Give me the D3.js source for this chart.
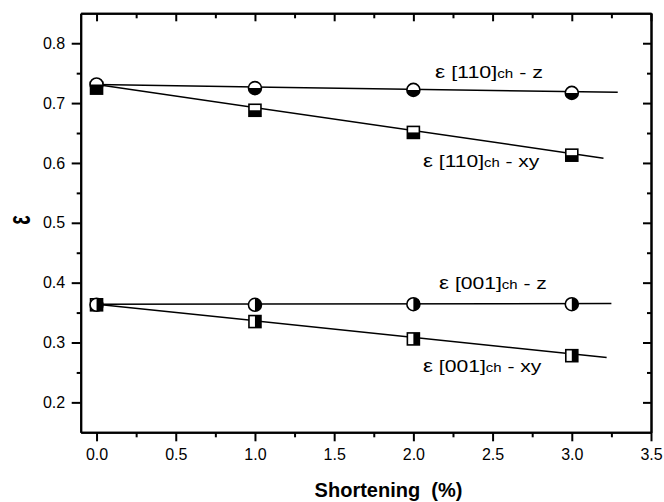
<!DOCTYPE html>
<html>
<head>
<meta charset="utf-8">
<script src="https://cdn.jsdelivr.net/npm/d3@7"></script>
<style>
  body { margin: 0; background: #fff; }
  text { font-family: "Liberation Sans", Arial, sans-serif; fill: #000; }
</style>
</head>
<body>
<div class="canvas"></div>
<script>
/////////////////////////////////////////////////
// Data
/////////////////////////////////////////////////

const shortening = [0, 1, 2, 3];
const eps110z = [0.731, 0.725, 0.722, 0.717];
const eps110xy = [0.725, 0.688, 0.651, 0.613];
const eps001z = [0.363, 0.363, 0.364, 0.364];
const eps001xy = [0.363, 0.335, 0.306, 0.278];

// linear fits, [start, end] as [x, y]
const fit110z = [[0, 0.731], [3.29, 0.718]];
const fit110xy = [[0, 0.731], [3.2, 0.608]];
const fit001z = [[0, 0.364], [3.25, 0.365]];
const fit001xy = [[0, 0.364], [3.22, 0.275]];

// label pieces: "ε [dir]ch - comp"
const labelDirs = ["110", "110", "001", "001"];
const labelComps = ["z", "xy", "z", "xy"];

const xTicks = [0, 0.5, 1, 1.5, 2, 2.5, 3, 3.5];
const xMinor = [0.25, 0.75, 1.25, 1.75, 2.25, 2.75, 3.25];
const yTicks = [0.2, 0.3, 0.4, 0.5, 0.6, 0.7, 0.8];
const yMinor = [0.25, 0.35, 0.45, 0.55, 0.65, 0.75];

/////////////////////////////////////////////////
// Setup
/////////////////////////////////////////////////

const width = 664;
const height = 502;
const margin = { top: 13.3, right: 13, bottom: 69.7, left: 80.7 };
const graphWidth = width - margin.left - margin.right;
const graphHeight = height - margin.top - margin.bottom;

const x = d3.scaleLinear().domain([-0.1, 3.5]).range([0, graphWidth]);
const y = d3.scaleLinear().domain([0.15, 0.85]).range([graphHeight, 0]);

const svg = d3
  .select(".canvas")
  .append("svg")
  .attr("width", width)
  .attr("height", height);

const graph = svg
  .append("g")
  .attr("transform", `translate(${margin.left}, ${margin.top})`);

/////////////////////////////////////////////////
// Axes
/////////////////////////////////////////////////

function styleAxis(g) {
  g.select(".domain").attr("stroke-width", 2);
  g.selectAll(".tick line").attr("stroke-width", 2);
  g.selectAll("text").attr("font-size", 16).attr("fill", "#000");
}

// bottom (outward ticks, labels)
graph
  .append("g")
  .attr("transform", `translate(0, ${graphHeight})`)
  .call(d3.axisBottom(x).tickValues(xMinor).tickSize(5).tickSizeOuter(0).tickFormat(""))
  .call(styleAxis);
const xAxisG = graph
  .append("g")
  .attr("transform", `translate(0, ${graphHeight})`)
  .call(
    d3.axisBottom(x).tickValues(xTicks).tickSize(9).tickSizeOuter(0).tickFormat(d3.format(".1f"))
  )
  .call(styleAxis);
xAxisG.selectAll("text").attr("y", 16.2);

// left (outward ticks, labels)
graph
  .append("g")
  .call(d3.axisLeft(y).tickValues(yMinor).tickSize(4).tickSizeOuter(0).tickFormat(""))
  .call(styleAxis);
graph
  .append("g")
  .call(
    d3.axisLeft(y).tickValues(yTicks).tickSize(9).tickSizeOuter(0).tickPadding(6.5).tickFormat(d3.format(".1f"))
  )
  .call(styleAxis);

// top (inward ticks)
graph
  .append("g")
  .call(d3.axisTop(x).tickValues(xMinor).tickSize(-5).tickSizeOuter(0).tickFormat(""))
  .call(styleAxis);
graph
  .append("g")
  .call(d3.axisTop(x).tickValues(xTicks).tickSize(-8).tickSizeOuter(0).tickFormat(""))
  .call(styleAxis);

// right (inward ticks)
graph
  .append("g")
  .attr("transform", `translate(${graphWidth}, 0)`)
  .call(d3.axisRight(y).tickValues(yMinor).tickSize(-4).tickSizeOuter(0).tickFormat(""))
  .call(styleAxis);
graph
  .append("g")
  .attr("transform", `translate(${graphWidth}, 0)`)
  .call(d3.axisRight(y).tickValues(yTicks).tickSize(-8).tickSizeOuter(0).tickFormat(""))
  .call(styleAxis);

// axis titles
svg
  .append("text")
  .attr("x", 388.5)
  .attr("y", 496.5)
  .attr("text-anchor", "middle")
  .attr("font-size", 20)
  .attr("font-weight", "bold")
  .attr("xml:space", "preserve")
  .text("Shortening  (%)");

svg
  .append("text")
  .attr("transform", "translate(29.5, 220) rotate(-90) scale(0.62, 1)")
  .attr("text-anchor", "middle")
  .attr("font-size", 32)
  .attr("font-weight", "bold")
  .text("ε");

/////////////////////////////////////////////////
// Fit lines
/////////////////////////////////////////////////

const line = d3
  .line()
  .x((d) => x(d[0]))
  .y((d) => y(d[1]));

[fit110z, fit110xy, fit001z, fit001xy].forEach((fit) => {
  graph
    .append("path")
    .attr("d", line(fit))
    .attr("fill", "none")
    .attr("stroke", "#000")
    .attr("stroke-width", 1.5);
});

/////////////////////////////////////////////////
// Markers
/////////////////////////////////////////////////

const r = 6.5;
const half = 6;

// split: "bottom" = lower half black, "right" = right half black
function drawCircles(values, split) {
  const arc = d3
    .arc()
    .innerRadius(0)
    .outerRadius(r)
    .startAngle(split === "bottom" ? Math.PI / 2 : 0)
    .endAngle(split === "bottom" ? (3 * Math.PI) / 2 : Math.PI);
  const g = graph
    .append("g")
    .selectAll("g")
    .data(values)
    .enter()
    .append("g")
    .attr("transform", (d, i) => `translate(${x(shortening[i])}, ${y(d)})`);
  g.append("circle").attr("r", r).attr("fill", "#fff");
  g.append("path").attr("d", arc()).attr("fill", "#000");
  g.append("circle")
    .attr("r", r)
    .attr("fill", "none")
    .attr("stroke", "#000")
    .attr("stroke-width", 1.6);
}

function drawSquares(values, split) {
  const g = graph
    .append("g")
    .selectAll("g")
    .data(values)
    .enter()
    .append("g")
    .attr("transform", (d, i) => `translate(${x(shortening[i])}, ${y(d)})`);
  g.append("rect")
    .attr("x", -half)
    .attr("y", -half)
    .attr("width", half * 2)
    .attr("height", half * 2)
    .attr("fill", "#fff");
  g.append("rect")
    .attr("x", split === "bottom" ? -half : 0)
    .attr("y", split === "bottom" ? 0 : -half)
    .attr("width", split === "bottom" ? half * 2 : half)
    .attr("height", split === "bottom" ? half : half * 2)
    .attr("fill", "#000");
  g.append("rect")
    .attr("x", -half)
    .attr("y", -half)
    .attr("width", half * 2)
    .attr("height", half * 2)
    .attr("fill", "none")
    .attr("stroke", "#000")
    .attr("stroke-width", 1.6);
}

drawSquares(eps110xy, "bottom");
drawCircles(eps110z, "bottom");
drawSquares(eps001xy, "right");
drawCircles(eps001z, "right");

/////////////////////////////////////////////////
// Series labels
/////////////////////////////////////////////////

// left edge / baseline in data units, and drawn width in px
const labelPos = [
  { x: 2.137, y: 0.7424, w: 108 },
  { x: 2.061, y: 0.5932, w: 117 },
  { x: 2.162, y: 0.3889, w: 108 },
  { x: 2.061, y: 0.2513, w: 119 },
];

labelDirs.forEach((dir, i) => {
  const pos = labelPos[i];
  const g = graph
    .append("g")
    .attr("transform", `translate(${x(pos.x)}, ${y(pos.y)})`);
  const t = g.append("text").attr("font-size", 17).attr("xml:space", "preserve");
  t.append("tspan").attr("font-size", 18).text("ε");
  t.append("tspan").text(` [${dir}]`);
  t.append("tspan").attr("font-size", 12).text("ch");
  t.append("tspan").text(` - ${labelComps[i]}`);
  const bw = t.node().getBBox().width;
  t.attr("transform", `scale(${pos.w / bw}, 1)`);
});
</script>
</body>
</html>
